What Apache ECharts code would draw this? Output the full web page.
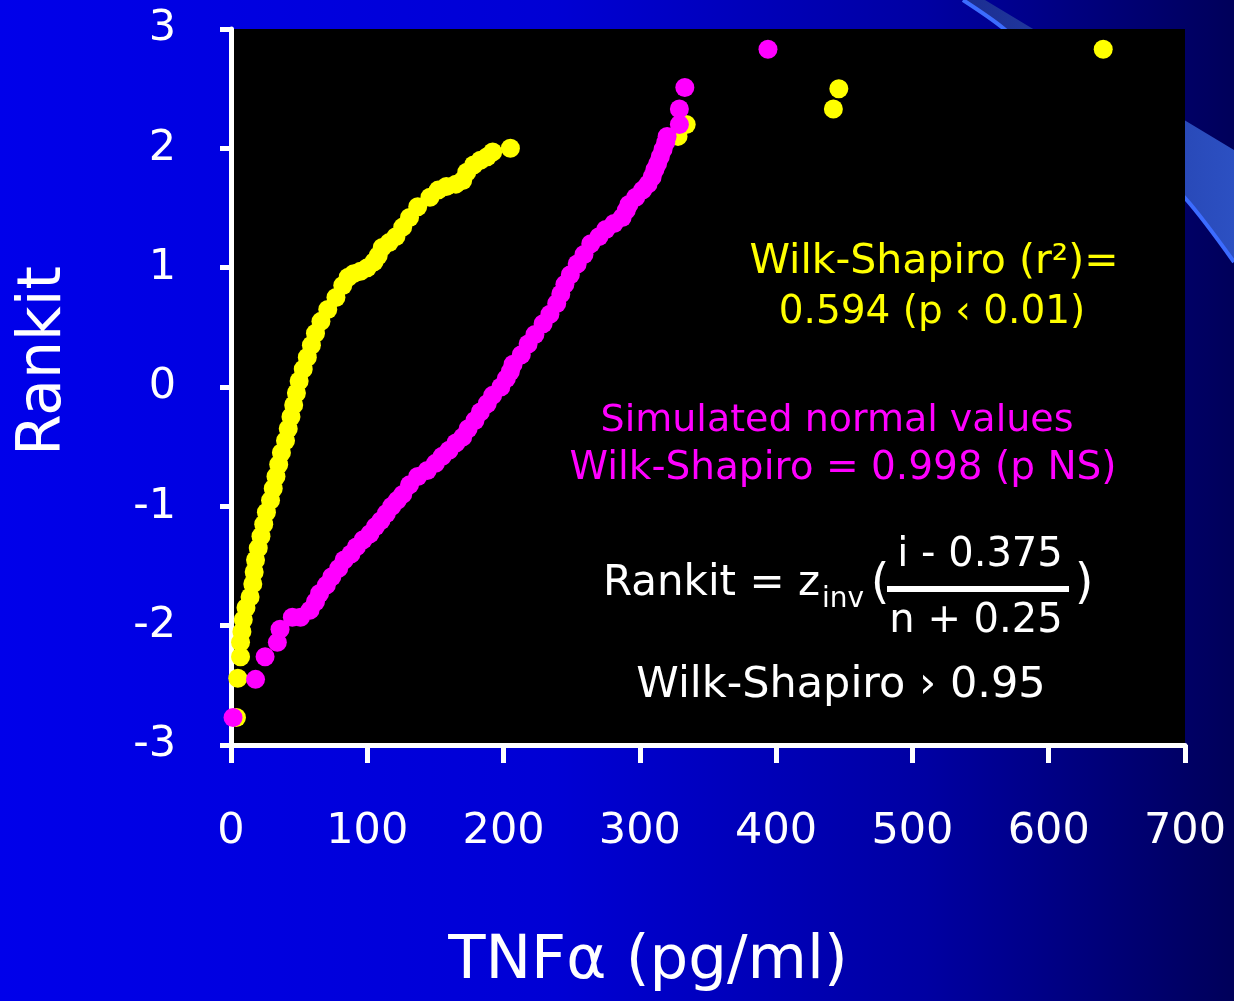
<!DOCTYPE html>
<html>
<head>
<meta charset="utf-8">
<style>
  html, body { margin: 0; padding: 0; background: #0000d0; }
  #chart { width: 1234px; height: 1001px; }
</style>
<script src="https://cdn.jsdelivr.net/npm/echarts@6/dist/echarts.min.js"></script>
</head>
<body>
<div id="chart"></div>
<script>
// Observed TNFα values (yellow) and their rankits
const tnfObserved = [4, 5, 7, 7, 8, 9, 11, 14, 16, 17, 18, 20, 22, 24, 26, 29, 31, 33, 35, 37, 40, 42, 44, 46, 48, 50, 53, 56, 59, 62, 66, 71, 77, 82, 86, 90, 95, 100, 105, 108, 111, 116, 121, 126, 131, 137, 146, 152, 158, 165, 170, 173, 178, 183, 188, 192, 205, 328, 334, 442, 446, 640];
const rankitObserved = [-2.77, -2.44, -2.26, -2.14, -2.05, -1.95, -1.85, -1.76, -1.65, -1.55, -1.45, -1.35, -1.25, -1.15, -1.05, -0.95, -0.85, -0.75, -0.65, -0.55, -0.45, -0.35, -0.25, -0.15, -0.05, 0.05, 0.15, 0.25, 0.35, 0.45, 0.55, 0.65, 0.75, 0.85, 0.92, 0.95, 0.97, 1.0, 1.05, 1.1, 1.17, 1.21, 1.26, 1.34, 1.42, 1.51, 1.59, 1.65, 1.68, 1.70, 1.73, 1.8, 1.86, 1.9, 1.93, 1.97, 2.0, 2.1, 2.2, 2.33, 2.5, 2.83];

// Simulated normal values (magenta) and their rankits
const tnfSimulated = [1.5, 18, 25, 34, 36, 45, 51, 58, 62, 65, 70, 74, 79, 83, 88, 92, 97, 102, 106, 110, 114, 118, 122, 126, 131, 137, 144, 150, 155, 160, 165, 170, 174, 179, 183, 188, 192, 198, 202, 205, 207, 213, 218, 223, 229, 234, 239, 242, 245, 249, 254, 259, 264, 270, 275, 281, 287, 290, 292, 297, 302, 306, 309, 311, 313, 315, 317, 319, 320, 329, 329, 333, 394];
const rankitSimulated = [-2.77, -2.45, -2.26, -2.14, -2.03, -1.93, -1.93, -1.87, -1.8, -1.73, -1.66, -1.59, -1.52, -1.45, -1.4, -1.34, -1.28, -1.23, -1.17, -1.12, -1.06, -1.0, -0.95, -0.9, -0.82, -0.75, -0.7, -0.64, -0.58, -0.53, -0.47, -0.42, -0.35, -0.28, -0.21, -0.14, -0.07, 0.0, 0.07, 0.13, 0.19, 0.27, 0.36, 0.44, 0.53, 0.61, 0.7, 0.78, 0.86, 0.94, 1.03, 1.11, 1.2, 1.26, 1.32, 1.37, 1.42, 1.48, 1.53, 1.59, 1.65, 1.7, 1.76, 1.82, 1.87, 1.93, 1.99, 2.05, 2.1, 2.2, 2.33, 2.51, 2.83];

// Axis ticks
const xTicks = { min: 0, max: 700, interval: 100 };
const yTicks = { min: -3, max: 3, interval: 1 };

const FONT = '"DejaVu Sans", sans-serif';

const observedData = tnfObserved.map((v, i) => [v, rankitObserved[i]]);
const simulatedData = tnfSimulated.map((v, i) => [v, rankitSimulated[i]]);

function txt(text, x, y, size, color, align, extra) {
  return Object.assign({
    type: 'text',
    z: 50,
    style: {
      text: text,
      x: x, y: y,
      font: size + 'px ' + FONT,
      fill: color,
      align: align || 'center',
      textAlign: align || 'center',
      verticalAlign: 'middle',
      textVerticalAlign: 'middle'
    }
  }, extra || {});
}

const chart = echarts.init(document.getElementById('chart'));
chart.setOption({
  animation: false,
  backgroundColor: {
    type: 'linear', x: 0, y: 0, x2: 1, y2: 0,
    colorStops: [
      { offset: 0, color: '#0000ea' },
      { offset: 0.45, color: '#0000d4' },
      { offset: 0.75, color: '#0000a2' },
      { offset: 1, color: '#00005a' }
    ]
  },
  grid: {
    left: 231, top: 29, right: 49, bottom: 256,
    show: true, backgroundColor: '#000000', borderWidth: 0
  },
  xAxis: {
    type: 'value',
    min: xTicks.min, max: xTicks.max, interval: xTicks.interval,
    axisLine: { show: true, onZero: false, lineStyle: { color: '#ffffff', width: 5 } },
    axisTick: { show: true, inside: false, length: 18, lineStyle: { color: '#ffffff', width: 5 } },
    splitLine: { show: false },
    axisLabel: { color: '#ffffff', fontSize: 43, fontFamily: FONT, margin: 65 }
  },
  yAxis: {
    type: 'value',
    min: yTicks.min, max: yTicks.max, interval: yTicks.interval,
    axisLine: { show: true, onZero: false, lineStyle: { color: '#ffffff', width: 5 } },
    axisTick: { show: true, inside: false, length: 11, lineStyle: { color: '#ffffff', width: 5 } },
    splitLine: { show: false },
    axisLabel: { color: '#ffffff', fontSize: 43, fontFamily: FONT, margin: 55, padding: [6, 0, 0, 0] }
  },
  series: [
    {
      name: 'TNFα', type: 'scatter', data: observedData,
      symbol: 'circle', symbolSize: 19,
      itemStyle: { color: '#ffff00', opacity: 1 }, z: 3
    },
    {
      name: 'Simulated normal', type: 'scatter', data: simulatedData,
      symbol: 'circle', symbolSize: 19,
      itemStyle: { color: '#ff00ff', opacity: 1 }, z: 4
    }
  ],
  graphic: [
    {
      type: 'polygon', z: -10, silent: true,
      shape: { points: [[985, 0], [1234, 150], [1234, 262], [1185, 198], [1100, 113], [1003, 28], [963, 0]], smooth: 0 },
      style: {
        fill: {
          type: 'linear', x: 0, y: 0, x2: 1, y2: 0,
          colorStops: [{ offset: 0, color: '#1b2d90' }, { offset: 1, color: '#2c50c2' }]
        }
      }
    },
    {
      type: 'polyline', z: -9, silent: true,
      shape: { points: [[963, 0], [1003, 28], [1100, 113], [1185, 198], [1234, 262]], smooth: 0.3 },
      style: { stroke: '#3c6cff', lineWidth: 4, fill: null }
    },
    // Axis titles
    { type: 'text', z: 50, rotation: Math.PI / 2, x: 44, y: 361,
      style: { text: 'Rankit', x: 0, y: 0, font: '60px ' + FONT, fill: '#ffffff', align: 'center', textAlign: 'center', verticalAlign: 'middle', textVerticalAlign: 'middle' } },
    txt('TNFα (pg/ml)', 648, 962, 61, '#ffffff'),
    // Yellow annotation
    txt('Wilk-Shapiro (r²)=', 934, 262, 41, '#ffff00'),
    txt('0.594 (p ‹ 0.01)', 932, 313, 39, '#ffff00'),
    // Magenta annotation
    txt('Simulated normal values', 837, 421, 38, '#ff00ff'),
    txt('Wilk-Shapiro = 0.998 (p NS)', 843, 469, 39, '#ff00ff'),
    // Rankit formula
    txt('Rankit = z', 603, 584, 42, '#ffffff', 'left'),
    txt('inv', 822, 600, 28, '#ffffff', 'left'),
    txt('(', 880, 586, 48, '#ffffff'),
    txt('i - 0.375', 980, 556, 40, '#ffffff'),
    {
      type: 'rect', z: 50, silent: true,
      shape: { x: 887, y: 586, width: 182, height: 6 },
      style: { fill: '#ffffff' }
    },
    txt('n + 0.25', 976, 622, 40, '#ffffff'),
    txt(')', 1084, 586, 48, '#ffffff'),
    txt('Wilk-Shapiro › 0.95', 841, 686, 43, '#ffffff')
  ]
});
</script>
</body>
</html>
